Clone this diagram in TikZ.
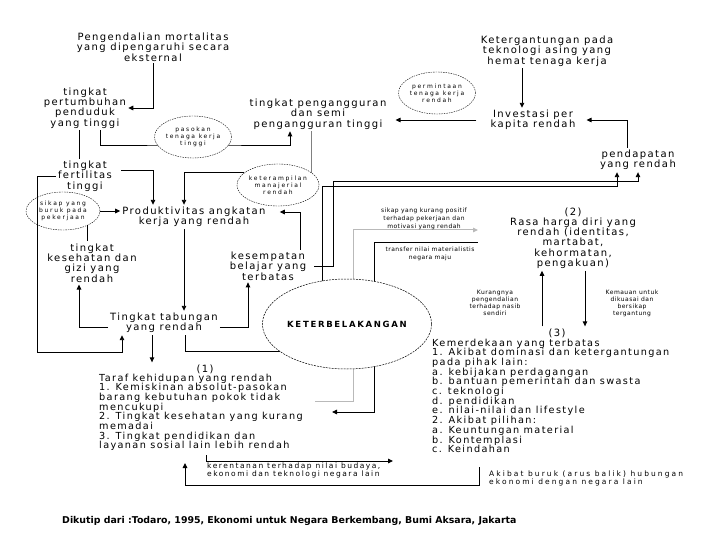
\documentclass[tikz,border=0pt]{standalone}
\usepackage{fontspec}
\newfontfamily\lblfont{DejaVu Sans}[LetterSpace=14]
\newfontfamily\farfont{DejaVu Sans}[LetterSpace=20]
\newfontfamily\tnyfont{DejaVu Sans}[LetterSpace=28]
\newfontfamily\notefont{DejaVu Sans}[LetterSpace=8]
\newfontfamily\capfont{DejaVu Sans}
\usetikzlibrary{arrows.meta,shapes.geometric,backgrounds}

\begin{document}
\begin{tikzpicture}[x=1pt, y=-1pt,
    lbl/.style={align=center, inner sep=2pt, font=\fontsize{10}{10.3}\selectfont\lblfont},
    lst/.style={align=left, inner sep=0pt, anchor=north west, font=\fontsize{9.7}{9.7}\selectfont\lblfont},
    note/.style={align=center, inner sep=0pt, font=\fontsize{6}{8}\selectfont\notefont},
    far/.style={align=left, inner sep=0pt, anchor=north west, font=\fontsize{7.5}{8.5}\selectfont\farfont},
    bubble/.style={ellipse, draw, dash pattern=on 1.5pt off 1pt, line width=0.4pt, fill=white,
      inner sep=0pt, align=center, font=\fontsize{6}{7}\selectfont\tnyfont},
    core/.style={ellipse, draw, dash pattern=on 2pt off 1pt, line width=0.5pt, fill=white,
      inner sep=0pt, font=\fontsize{8.5}{10}\selectfont\farfont\bfseries},
    arr/.style={line width=0.9pt, -{Triangle[length=5pt,width=4.5pt]}},
    ln/.style={line width=0.9pt},
    gln/.style={line width=1pt, gray!55},
  ]
  \useasboundingbox (0,0) rectangle (720,540);
  %
  % upper left
  \node[lbl] (mort) at (153,47) {Pengendalian mortalitas\\yang dipengaruhi secara\\eksternal};
  \node[lbl] (pert) at (85,108) {tingkat\\pertumbuhan\\penduduk\\yang tinggi};
  \node[lbl] (fert) at (85,176) {tingkat\\fertilitas\\tinggi};
  \node[lbl] (kes) at (92,263) {tingkat\\kesehatan dan\\gizi yang\\rendah};
  \node[bubble, minimum width=74pt, minimum height=38pt] (sikap) at (63,211) {sikap yang\\buruk pada\\pekerjaan};
  \node[bubble, minimum width=74pt, minimum height=42pt] (pasok) at (193,137) {pasokan\\tenaga kerja\\tinggi};
  %
  % middle
  \node[lbl] (prod) at (194,217) {Produktivitas angkatan\\kerja yang rendah};
  \node[lbl] (tab) at (164,323) {Tingkat tabungan\\yang rendah};
  \node[lbl] (kesem) at (268,266) {kesempatan\\belajar yang\\terbatas};
  \node[bubble, minimum width=74pt, minimum height=42pt] (ketr) at (278,185) {keterampilan\\manajerial\\rendah};
  \node[lbl] (peng) at (318,114) {tingkat pengangguran\\dan semi\\pengangguran tinggi};
  %
  % upper right
  \node[lbl] (tekn) at (547,51) {Ketergantungan pada\\teknologi asing yang\\hemat tenaga kerja};
  \node[bubble, minimum width=74pt, minimum height=42pt] (perm) at (437,93) {permintaan\\tenaga kerja\\rendah};
  \node[lbl] (inv) at (533,120) {Investasi per\\kapita rendah};
  \node[lbl] (pend) at (638,160) {pendapatan\\yang rendah};
  %
  % centre and right
  \node[core, minimum width=160pt, minimum height=90pt] (und) at (347,324) {KETERBELAKANGAN};
  \node[note] (neg) at (424,219) {sikap yang kurang positif\\terhadap pekerjaan dan\\motivasi yang rendah};
  \node[note] (mat) at (430,254) {transfer nilai materialistis\\negara maju};
  \node[lbl] (harga) at (573,238) {(2)\\Rasa harga diri yang\\rendah (identitas,\\martabat,\\kehormatan,\\pengakuan)};
  \node[note, font=\fontsize{6}{7}\selectfont\notefont] (nasib) at (495,303) {Kurangnya\\pengendalian\\terhadap nasib\\sendiri};
  \node[note, font=\fontsize{6}{7}\selectfont\notefont] (mau) at (632,303) {Kemauan untuk\\dikuasai dan\\bersikap\\tergantung};
  %
  % lower
  \node[lbl] (merdno) at (557,333) {(3)};
  \node[lst] (merd) at (432,338.5) {Kemerdekaan yang terbatas\\1. Akibat dominasi dan ketergantungan\\pada pihak lain:\\a. kebijakan perdagangan\\b. bantuan pemerintah dan swasta\\c. teknologi\\d. pendidikan\\e. nilai-nilai dan lifestyle\\2. Akibat pilihan:\\a. Keuntungan material\\b. Kontemplasi\\c. Keindahan};
  \node[lbl] (tarafno) at (205,369) {(1)};
  \node[lst] (taraf) at (99,373.5) {Taraf kehidupan yang rendah\\1. Kemiskinan absolut-pasokan\\barang kebutuhan pokok tidak\\mencukupi\\2. Tingkat kesehatan yang kurang\\memadai\\3. Tingkat pendidikan dan\\layanan sosial lain lebih rendah};
  \node[far] (rentan) at (207,462.5) {kerentanan terhadap nilai budaya,\\ekonomi dan teknologi negara lain};
  \node[far, font=\fontsize{7.5}{8.5}\selectfont\tnyfont] (balik) at (489,470.5) {Akibat buruk (arus balik) hubungan\\ekonomi dengan negara lain};
  \node[anchor=west, inner sep=0pt, font=\fontsize{9.4}{10}\selectfont\capfont\bfseries] (src) at (62,521)
    {Dikutip dari :Todaro, 1995, Ekonomi untuk Negara Berkembang, Bumi Aksara, Jakarta};
  %
  % bends and free ends
  \coordinate (lb) at (37,352);
  \coordinate (k1) at (333,181);
  \coordinate (k2) at (322,186);
  \coordinate (k3) at (353,230);
  \coordinate (k3e) at (478,230);
  \coordinate (k4) at (374,242);
  \coordinate (k4e) at (478,242);
  \coordinate (k6) at (315,401);
  \coordinate (k7) at (332,412);
  \coordinate (k8) at (206,455);
  \coordinate (k8e) at (393,461);
  \coordinate (k9) at (479,467);
  \coordinate (k10) at (185,485);
  \coordinate (k11) at (185,463);
  %
  % connectors
  \draw[arr] (mort.south) |- (pert.east);
  \draw[ln] ([xshift=-6pt]pert.south) -- ([xshift=-6pt]pert.south |- fert.north);
  \draw[arr] ([xshift=7pt,yshift=6pt]fert.east) -| ([xshift=-41pt]prod.north);
  \draw[arr] (fert.west) -| (lb) -| ([xshift=-42pt]tab.south);
  \draw[arr] (sikap.east) -- (sikap.east -| prod.west);
  \draw[ln] (sikap.-30) -- (sikap.-30 |- kes.north);
  \draw[arr] ([yshift=-4pt]tab.west) -| ([xshift=-13pt]kes.south);
  \draw[arr] ([xshift=-10pt]prod.south) -- ([xshift=-10pt]prod.south |- tab.north);
  \draw[arr] (ketr.160) -| ([xshift=-10pt]prod.north);
  \draw[arr] ([yshift=-4pt]tab.east) -| ([xshift=-20pt]kesem.south);
  \draw[arr] ([xshift=32pt]kesem.north) |- ([xshift=12pt,yshift=5pt]prod.east);
  \draw[arr] ([xshift=6pt]kesem.east) -| (k1) -| (pend.south);
  \draw[arr] ([xshift=-11pt]pend.north) |- ([xshift=9pt]inv.east);
  \draw[arr] ([xshift=-12pt]inv.west) -- ([xshift=7pt]peng.east |- inv.west);
  \draw[arr] ([xshift=-25pt]tekn.south) -- ([xshift=-25pt]tekn.south |- inv.north);
  \draw[arr] ([xshift=-15pt]merdno.north) -- ([xshift=-15pt]merdno.north |- harga.south);
  \draw[arr] ([xshift=12pt]harga.south) -- ([xshift=12pt]harga.south |- merdno.north);
  \draw[arr] ([xshift=-12pt]tab.south) -- ([xshift=-12pt]tab.south |- tarafno.north);
  \draw[arr] (k8) |- (k8e);
  \draw[arr] (k9) |- (k10) -- (k11);
  %
  \begin{scope}[on background layer]
    \draw[arr] ([xshift=15pt]pert.south) |- ([yshift=-8pt]pasok.center) -| ([xshift=-28pt]peng.south);
    \draw[thin, gray] ([xshift=-7pt]peng.south) -- ([xshift=-7pt]peng.south |- ketr.center);
    \draw[arr] (k2 |- und.center) -- (k2) -| ([xshift=-21pt]pend.south);
    \draw[gln, -{Triangle[length=5pt,width=4.5pt]}] (k3 |- und.center) -- (k3) -- (k3e);
    \draw[ln] (k4 |- und.center) -- (k4) -- (k4e);
    \draw[ln] ([xshift=21pt]tab.south) |- ([yshift=-27pt]und.center);
    \draw[gln] ([xshift=6pt]und.center) |- (k6);
    \draw[arr] ([xshift=27pt]und.center) |- (k7);
  \end{scope}
  %
\end{tikzpicture}
\end{document}
